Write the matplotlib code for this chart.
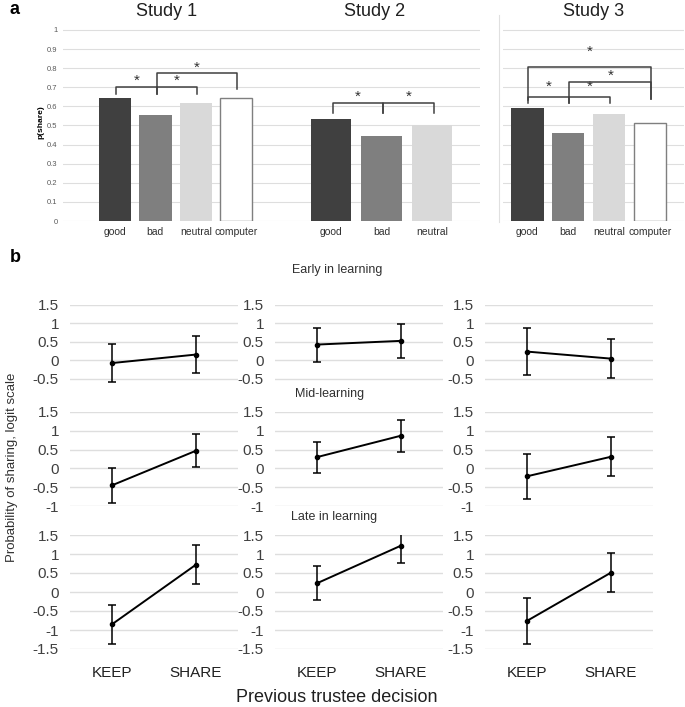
import matplotlib.pyplot as plt
from matplotlib.lines import Line2D

plt.rcParams['font.family'] = ['Liberation Sans', 'DejaVu Sans']

# Panel a data
cats1 = ['good', 'bad', 'neutral', 'computer']
share1 = [0.645, 0.555, 0.62, 0.645]
cats2 = ['good', 'bad', 'neutral']
share2 = [0.535, 0.445, 0.50]
cats3 = ['good', 'bad', 'neutral', 'computer']
share3 = [0.59, 0.46, 0.56, 0.513]

# significance brackets: (from, to, top, leg end from, leg end to, star y)
sig1 = [(0, 1, 0.70, 0.665, 0.665, 0.735), (1, 2, 0.70, 0.665, 0.665, 0.735),
        (1, 3, 0.775, 0.70, 0.69, 0.80)]
sig2 = [(0, 1, 0.615, 0.565, 0.565, 0.65), (1, 2, 0.615, 0.565, 0.565, 0.65)]
sig3 = [(0, 1, 0.65, 0.62, 0.62, 0.70), (1, 2, 0.65, 0.62, 0.62, 0.70),
        (1, 3, 0.73, 0.65, 0.64, 0.76), (0, 3, 0.808, 0.635, 0.64, 0.885)]

# Panel b data (logit scale), rows = learning stage, cols = study
decisions = ['KEEP', 'SHARE']
stages = ['Early in learning', 'Mid-learning', 'Late in learning']
means = [
    [[-0.07, 0.16], [0.43, 0.53], [0.24, 0.05]],
    [[-0.45, 0.47], [0.30, 0.87], [-0.21, 0.31]],
    [[-0.85, 0.72], [0.23, 1.22], [-0.76, 0.51]],
]
errs = [
    [[0.51, 0.51], [0.46, 0.46], [0.64, 0.53]],
    [[0.46, 0.44], [0.41, 0.43], [0.60, 0.52]],
    [[0.51, 0.51], [0.45, 0.46], [0.61, 0.52]],
]

W, H = 685, 707
fig = plt.figure(figsize=(W / 100, H / 100), dpi=100)


def add_ax(l, t, r, b):
    return fig.add_axes([l / W, 1 - b / H, (r - l) / W, (b - t) / H])


bar_cols = {'good': '#404040', 'bad': '#7f7f7f', 'neutral': '#d9d9d9', 'computer': 'white'}
grid_c = '#dedede'


def bar_panel(ax, cats, vals, sig, xlim, title, show_y):
    ax.bar(range(len(cats)), vals, width=0.8, color=[bar_cols[c] for c in cats],
           edgecolor=['#404040' if c != 'computer' else '#7f7f7f' for c in cats],
           linewidth=[0 if c != 'computer' else 1.0 for c in cats], zorder=3)
    ax.set_xlim(*xlim)
    ax.set_ylim(0, 1.031)
    ax.set_yticks([i / 10 for i in range(11)])
    ax.set_yticklabels(['0'] + ['0.%d' % i for i in range(1, 10)] + ['1'] if show_y else [])
    ax.yaxis.grid(True, color=grid_c, lw=0.8, zorder=0)
    ax.set_xticks(range(len(cats)))
    ax.set_xticklabels(cats)
    ax.tick_params(length=0, labelsize=5.5, labelcolor='#595959', pad=4)
    ax.tick_params(axis='x', labelsize=7.5, labelcolor='#303030', pad=4)
    for s in ax.spines.values():
        s.set_visible(False)
    for a, b, top, la, lb, sy in sig:
        xa, xb = a + 0.03, b + 0.03
        ax.plot([xa, xa, xb, xb], [la, top, top, lb], color='#404040', lw=1.1, zorder=4,
                solid_joinstyle='round')
        ax.text((xa + xb) / 2, sy, '*', ha='center', va='center', fontsize=11, color='#303030')
    ax.set_title(title, fontsize=13, color='#202020', pad=6)


ax1 = add_ax(63, 24, 270, 221)
bar_panel(ax1, cats1, share1, sig1, (-1.29, 3.84), 'Study 1', True)
ax1.set_ylabel('p(share)', fontsize=6, fontweight='bold', labelpad=2)
ax2 = add_ax(270, 24, 480, 221)
bar_panel(ax2, cats2, share2, sig2, (-1.21, 2.95), 'Study 2', False)
ax3 = add_ax(503, 24, 684, 221)
bar_panel(ax3, cats3, share3, sig3, (-0.59, 3.83), 'Study 3', False)
fig.add_artist(Line2D([499 / W, 499 / W], [1 - 222 / H, 1 - 15 / H], color='#e0e0e0', lw=0.8))

fig.text(10 / W, 1 - 10 / H, 'a', fontsize=13, fontweight='bold', va='center')
fig.text(10 / W, 1 - 258 / H, 'b', fontsize=13, fontweight='bold', va='center')

# Panel b layout
col_x = [(70, 238), (275, 443), (485, 653)]
row_y = [(305, 384.5), (412, 506), (535, 649)]
row_lim = [(-0.65, 1.5), (-1.0, 1.5), (-1.5, 1.5)]
row_ticks = [[-0.5, 0, 0.5, 1, 1.5], [-1, -0.5, 0, 0.5, 1, 1.5],
             [-1.5, -1, -0.5, 0, 0.5, 1, 1.5]]

for r in range(3):
    for c in range(3):
        l, rr = col_x[c]
        t, b = row_y[r]
        ax = add_ax(l, t, rr, b)
        ax.errorbar([0, 1], means[r][c], yerr=errs[r][c], color='black', lw=1.4,
                    marker='o', ms=3, capsize=3, elinewidth=1.1, capthick=1.1, zorder=3)
        ax.set_xlim(-0.5, 1.5)
        ax.set_ylim(*row_lim[r])
        ax.set_yticks(row_ticks[r])
        ax.set_yticklabels(['%g' % v for v in row_ticks[r]])
        ax.yaxis.grid(True, color=grid_c, lw=1.0, zorder=0)
        ax.tick_params(length=0, labelsize=11, labelcolor='#404040', pad=8)
        ax.set_xticks([0, 1])
        if r == 2:
            ax.set_xticklabels(decisions, fontsize=11, color='#202020')
            ax.tick_params(axis='x', pad=12)
        else:
            ax.set_xticklabels([])
        for s in ax.spines.values():
            s.set_visible(False)

fig.text(337 / W, 1 - 270 / H, stages[0], fontsize=9, color='#303030', ha='center', va='center')
fig.text(330 / W, 1 - 394 / H, stages[1], fontsize=9, color='#303030', ha='center', va='center')
fig.text(334 / W, 1 - 517 / H, stages[2], fontsize=9, color='#303030', ha='center', va='center')
fig.text(12 / W, 1 - 467 / H, 'Probability of sharing, logit scale', fontsize=9.5, color='#303030',
         rotation=90, ha='center', va='center')
fig.text(337 / W, 1 - 697 / H, 'Previous trustee decision', fontsize=13, color='#202020',
         ha='center', va='center')

fig.savefig('out.png', dpi=100)
